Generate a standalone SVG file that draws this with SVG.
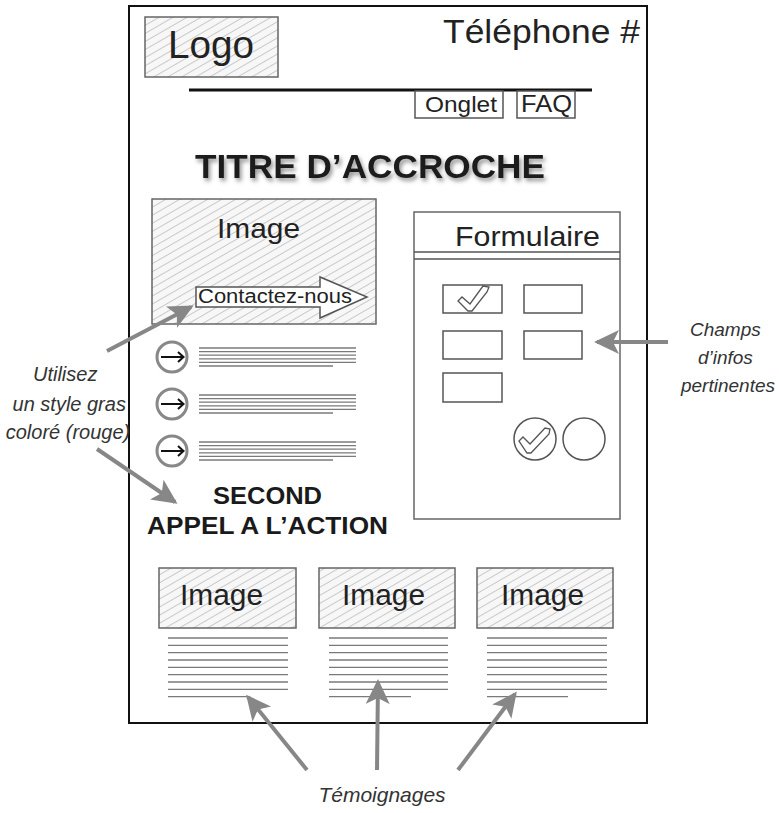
<svg xmlns="http://www.w3.org/2000/svg" width="779" height="813" viewBox="0 0 779 813">
<style>
.box{fill:#fff;stroke:#555;stroke-width:1.5}
.hbox{fill:url(#hatch);stroke:#666;stroke-width:1.5}
.t{font-family:"Liberation Sans",Arial,sans-serif;fill:#222}
.ti{font-family:"Liberation Sans",Arial,sans-serif;font-style:italic;fill:#333}
.tb{font-family:"Liberation Sans",Arial,sans-serif;font-weight:bold;fill:#1a1a1a}
.ln{stroke:#7a7a7a;stroke-width:1.3}
.conn{stroke:#878787;stroke-width:4;fill:none;marker-end:url(#ah)}
.bul{fill:#fff;stroke:#888;stroke-width:3}
.barrow{stroke:#111;stroke-width:2;fill:none}
</style>
<defs>
<pattern id="hatch" patternUnits="userSpaceOnUse" width="7" height="7" patternTransform="rotate(-30)">
<rect width="7" height="7" fill="#f7f7f7"/>
<line x1="0" y1="3.5" x2="7" y2="3.5" stroke="#c4c4c4" stroke-width="0.9"/>
</pattern>
<marker id="ah" markerUnits="userSpaceOnUse" markerWidth="26" markerHeight="24" refX="22" refY="12" orient="auto">
<path d="M0,0 L25,12 L0,24 L6,12 z" fill="#878787"/>
</marker>
<filter id="sh" x="-10%" y="-30%" width="120%" height="160%">
<feDropShadow dx="2" dy="3" stdDeviation="2" flood-color="#777" flood-opacity="0.8"/>
</filter>
</defs>
<rect width="779" height="813" fill="#fff"/>

<g id="page">
<rect x="129" y="6" width="518" height="717" fill="none" stroke="#111" stroke-width="2"/>
</g>

<g id="logo">
<rect class="hbox" x="145" y="17" width="133" height="60"/>
<text class="t" x="168" y="58" font-size="38" textLength="86" lengthAdjust="spacingAndGlyphs">Logo</text>
</g>

<g id="telephone">
<text class="t" x="443" y="43" font-size="34" textLength="197" lengthAdjust="spacingAndGlyphs">Téléphone #</text>
</g>

<g id="nav">
<line x1="189" y1="90" x2="592" y2="90" stroke="#111" stroke-width="3"/>
<rect class="box" x="415" y="91" width="88" height="27"/>
<text class="t" x="425" y="112" font-size="22" textLength="72" lengthAdjust="spacingAndGlyphs">Onglet</text>
<rect class="box" x="517" y="91" width="58" height="27"/>
<text class="t" x="521" y="112" font-size="23" textLength="51" lengthAdjust="spacingAndGlyphs">FAQ</text>
</g>

<g id="titre">
<text class="tb" x="195" y="178" font-size="34" textLength="350" lengthAdjust="spacingAndGlyphs" filter="url(#sh)">TITRE D’ACCROCHE</text>
</g>

<g id="hero-image">
<rect class="hbox" x="152" y="199" width="224" height="125"/>
<text class="t" x="217" y="238" font-size="28" textLength="83" lengthAdjust="spacingAndGlyphs">Image</text>
</g>

<g id="contactez">
<path d="M196,287 L320,287 L320,277 L367,297 L320,318 L320,307 L196,307 z" fill="#fff" stroke="#555" stroke-width="1.5"/>
<text class="t" x="198" y="303" font-size="20" textLength="154" lengthAdjust="spacingAndGlyphs">Contactez-nous</text>
</g>

<g id="bullets">
<circle class="bul" cx="172" cy="357" r="15"/>
<path class="barrow" d="M161,357 L183,357 M178,352 L183.5,357 L178,362"/>
<circle class="bul" cx="172" cy="404" r="15"/>
<path class="barrow" d="M161,404 L183,404 M178,399 L183.5,404 L178,409"/>
<circle class="bul" cx="172" cy="451" r="15"/>
<path class="barrow" d="M161,451 L183,451 M178,446 L183.5,451 L178,456"/>
<g class="ln">
<line x1="199" y1="348" x2="356" y2="348"/><line x1="199" y1="351.6" x2="356" y2="351.6"/><line x1="199" y1="355.2" x2="356" y2="355.2"/><line x1="199" y1="358.8" x2="356" y2="358.8"/><line x1="199" y1="362.4" x2="356" y2="362.4"/><line x1="199" y1="366" x2="333" y2="366"/>
<line x1="199" y1="395" x2="356" y2="395"/><line x1="199" y1="398.6" x2="356" y2="398.6"/><line x1="199" y1="402.2" x2="356" y2="402.2"/><line x1="199" y1="405.8" x2="356" y2="405.8"/><line x1="199" y1="409.4" x2="356" y2="409.4"/><line x1="199" y1="413" x2="333" y2="413"/>
<line x1="199" y1="442" x2="356" y2="442"/><line x1="199" y1="445.6" x2="356" y2="445.6"/><line x1="199" y1="449.2" x2="356" y2="449.2"/><line x1="199" y1="452.8" x2="356" y2="452.8"/><line x1="199" y1="456.4" x2="356" y2="456.4"/><line x1="199" y1="460" x2="333" y2="460"/>
</g>
</g>

<g id="second-cta">
<text class="tb" x="213" y="504" font-size="24" textLength="109" lengthAdjust="spacingAndGlyphs">SECOND</text>
<text class="tb" x="147" y="534" font-size="24" textLength="241" lengthAdjust="spacingAndGlyphs">APPEL A L’ACTION</text>
</g>

<g id="formulaire">
<rect x="414" y="212" width="206" height="307" fill="#fff" stroke="#666" stroke-width="1.5"/>
<line x1="414" y1="252" x2="620" y2="252" stroke="#555" stroke-width="1.5"/>
<line x1="414" y1="259" x2="620" y2="259" stroke="#555" stroke-width="1.5"/>
<text class="t" x="455" y="246" font-size="28" textLength="145" lengthAdjust="spacingAndGlyphs">Formulaire</text>
<rect class="box" x="443" y="285" width="59" height="28"/>
<path d="M458,301 L462,297 L470,304 L483,286 L489,287 L487,292 L472,311 L468,311 z" fill="#fff" stroke="#555" stroke-width="1.3"/>
<rect class="box" x="524" y="285" width="58" height="28"/>
<rect class="box" x="443" y="331" width="59" height="28"/>
<rect class="box" x="524" y="331" width="58" height="28"/>
<rect class="box" x="443" y="373" width="59" height="29"/>
<circle cx="535" cy="439" r="21" fill="#fff" stroke="#555" stroke-width="1.5"/>
<path d="M519,441 L523,437 L530,444 L545,428 L550,429 L549,434 L531,453 L527,453 z" fill="#fff" stroke="#555" stroke-width="1.3"/>
<circle cx="584" cy="439" r="21" fill="#fff" stroke="#555" stroke-width="1.5"/>
</g>

<g id="temoignage-1">
<rect class="hbox" x="159" y="568" width="137" height="60"/>
<text class="t" x="180" y="605" font-size="29" textLength="83" lengthAdjust="spacingAndGlyphs">Image</text>
<g class="ln">
<line x1="168" y1="638" x2="288" y2="638"/><line x1="168" y1="645.3" x2="288" y2="645.3"/><line x1="168" y1="652.6" x2="288" y2="652.6"/><line x1="168" y1="660" x2="288" y2="660"/><line x1="168" y1="667.3" x2="288" y2="667.3"/><line x1="168" y1="674.6" x2="288" y2="674.6"/><line x1="168" y1="682" x2="288" y2="682"/><line x1="168" y1="689.3" x2="288" y2="689.3"/><line x1="168" y1="696.6" x2="250" y2="696.6"/>
</g>
</g>

<g id="temoignage-2">
<rect class="hbox" x="319" y="568" width="136" height="60"/>
<text class="t" x="342" y="605" font-size="29" textLength="83" lengthAdjust="spacingAndGlyphs">Image</text>
<g class="ln">
<line x1="329" y1="638" x2="448" y2="638"/><line x1="329" y1="645.3" x2="448" y2="645.3"/><line x1="329" y1="652.6" x2="448" y2="652.6"/><line x1="329" y1="660" x2="448" y2="660"/><line x1="329" y1="667.3" x2="448" y2="667.3"/><line x1="329" y1="674.6" x2="448" y2="674.6"/><line x1="329" y1="682" x2="448" y2="682"/><line x1="329" y1="689.3" x2="448" y2="689.3"/><line x1="329" y1="696.6" x2="411" y2="696.6"/>
</g>
</g>

<g id="temoignage-3">
<rect class="hbox" x="477" y="568" width="136" height="60"/>
<text class="t" x="501" y="605" font-size="29" textLength="83" lengthAdjust="spacingAndGlyphs">Image</text>
<g class="ln">
<line x1="487" y1="638" x2="607" y2="638"/><line x1="487" y1="645.3" x2="607" y2="645.3"/><line x1="487" y1="652.6" x2="607" y2="652.6"/><line x1="487" y1="660" x2="607" y2="660"/><line x1="487" y1="667.3" x2="607" y2="667.3"/><line x1="487" y1="674.6" x2="607" y2="674.6"/><line x1="487" y1="682" x2="607" y2="682"/><line x1="487" y1="689.3" x2="607" y2="689.3"/><line x1="487" y1="696.6" x2="568" y2="696.6"/>
</g>
</g>

<g id="note-style">
<text class="ti" font-size="20" text-anchor="middle">
<tspan x="68" y="381">Utilisez</tspan>
<tspan x="72" y="411">un style gras</tspan>
<tspan x="68" y="439">coloré (rouge)</tspan>
</text>
</g>

<g id="note-champs">
<text class="ti" font-size="19" text-anchor="middle">
<tspan x="728" y="336">Champs</tspan>
<tspan x="728" y="364">d’infos</tspan>
<tspan x="728" y="392">pertinentes</tspan>
</text>
</g>

<g id="note-temoignages">
<text class="ti" x="382" y="802" font-size="21" text-anchor="middle">Témoignages</text>
</g>

<g id="connectors">
<line class="conn" x1="107" y1="351" x2="191" y2="307"/>
<line class="conn" x1="97" y1="449" x2="175" y2="502"/>
<line class="conn" x1="668" y1="342" x2="597" y2="342"/>
<line class="conn" x1="307" y1="770" x2="248" y2="697"/>
<line class="conn" x1="377" y1="770" x2="378" y2="682"/>
<line class="conn" x1="458" y1="770" x2="515" y2="694"/>
</g>
</svg>
